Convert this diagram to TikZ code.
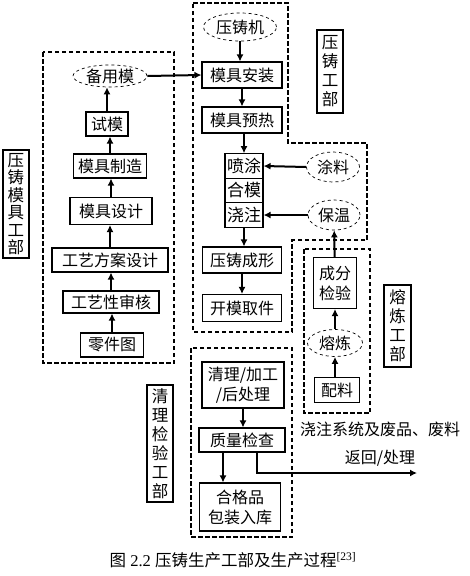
\documentclass[tikz,border=0pt]{standalone}
\usepackage{fontspec}
\setmainfont{Liberation Serif}
\newfontfamily\cjk{Noto Sans CJK SC}
\usetikzlibrary{shapes.geometric,arrows.meta}

\tikzset{
	stepbox/.style={draw,line width=1.1pt,inner sep=0.5pt,align=center,
		font=\cjk\fontsize{16}{20}\selectfont},
	oval/.style={ellipse,draw,dashed,line width=0.7pt,inner sep=0pt,
		font=\cjk\fontsize{16}{20}\selectfont},
	deptlabel/.style={draw,line width=1.1pt,inner sep=1pt,align=center,
		font=\cjk\fontsize{16.5}{19}\selectfont},
	region/.style={line width=1.8pt,dash pattern=on 4.5pt off 2.5pt},
	flow/.style={line width=2pt,-{Latex[length=7pt,width=7pt]}}
}

\begin{document}
\begin{tikzpicture}[x=1pt,y=-1pt]
	\useasboundingbox (0,0) rectangle (469,576);
	% dashed regions
	\draw[region] (43,52) rectangle (174,363);
	\draw[region] (193,3) -- (288,3) -- (288,143) -- (367,143) -- (367,240)
		-- (292,240) -- (292,332) -- (193,332) -- cycle;
	\draw[region] (304,249) rectangle (370,413);
	\draw[region] (191,348) rectangle (292,537);
	% mould department
	\node[oval,minimum width=74,minimum height=22] (bym) at (110,76) {备用模};
	\node[stepbox,minimum width=42,minimum height=24] (shimo) at (107,124) {试模};
	\node[stepbox,minimum width=73,minimum height=24] (zhizao) at (110,166) {模具制造};
	\node[stepbox,minimum width=82,minimum height=27] (sheji) at (111,211) {模具设计};
	\node[stepbox,minimum width=116,minimum height=24] (fangan) at (110,260) {工艺方案设计};
	\node[stepbox,minimum width=96,minimum height=22] (shenhe) at (111,302) {工艺性审核};
	\node[stepbox,minimum width=63,minimum height=24] (lingjian) at (112,345) {零件图};
	\draw[flow] (lingjian.north) -- (lingjian.north |- shenhe.south);
	\draw[flow] (shenhe.north) -- (shenhe.north |- fangan.south);
	\draw[flow] (fangan.north) -- (fangan.north |- sheji.south);
	\draw[flow] (sheji.north) -- (sheji.north |- zhizao.south);
	\draw[flow] (zhizao.north) -- (zhizao.north |- shimo.south);
	\draw[flow] (shimo.north) -- (shimo.north |- bym.south);
	% die casting department
	\node[oval,minimum width=73,minimum height=28] (yzj) at (240,27) {压铸机};
	\node[stepbox,minimum width=80,minimum height=26] (anzhuang) at (242,75) {模具安装};
	\node[stepbox,minimum width=80,minimum height=26] (yure) at (242,120) {模具预热};
	\node[stepbox,minimum width=38,minimum height=24.5,font=\cjk\fontsize{17}{20}\selectfont] (pentu) at (244,166) {喷涂};
	\node[stepbox,minimum width=38,minimum height=24.5,font=\cjk\fontsize{17}{20}\selectfont] (hemo) at (244,190.5) {合模};
	\node[stepbox,minimum width=38,minimum height=24.5,font=\cjk\fontsize{17}{20}\selectfont] (jiaozhu) at (244,215) {浇注};
	\node[oval,minimum width=53,minimum height=30] (tuliao) at (333,167) {涂料};
	\node[oval,minimum width=52,minimum height=30] (baowen) at (334,215) {保温};
	\node[stepbox,minimum width=79,minimum height=26] (chengxing) at (242,260) {压铸成形};
	\node[stepbox,minimum width=79,minimum height=27] (kaimo) at (242,308) {开模取件};
	\draw[flow] (bym.east) -- (anzhuang.west);
	\draw[flow] (yzj.south) -- (yzj.south |- anzhuang.north);
	\draw[flow] (anzhuang) -- (yure);
	\draw[flow] (yure.south -| pentu) -- (pentu.north);
	\draw[flow] (tuliao.west) -- (pentu.east);
	\draw[flow] (baowen.west) -- (jiaozhu.east);
	\draw[flow] (jiaozhu.south) -- (jiaozhu.south |- chengxing.north);
	\draw[flow] (chengxing) -- (kaimo);
	% melting department
	\node[stepbox,minimum width=43,minimum height=51] (chengfen) at (335,283) {成分\\检验};
	\node[oval,minimum width=55,minimum height=27] (ronglian) at (335,343) {熔炼};
	\node[stepbox,minimum width=45,minimum height=25] (peiliao) at (337,390) {配料};
	\draw[flow] (peiliao.north -| ronglian) -- (ronglian.south);
	\draw[flow] (ronglian) -- (chengfen);
	\draw[flow] (chengfen) -- (baowen);
	% cleaning and inspection department
	\node[stepbox,minimum width=82,minimum height=46] (qingli) at (243,385) {清理/加工\\/后处理};
	\node[stepbox,minimum width=86,minimum height=24] (zhiliang) at (242,440) {质量检查};
	\node[stepbox,minimum width=81,minimum height=48] (hege) at (240,507) {合格品\\包装入库};
	\coordinate (fanhui) at (417,473);
	\draw[flow] (qingli.south) -- (qingli.south |- zhiliang.north);
	\draw[flow] ([xshift=-19pt]zhiliang.south) -- ([xshift=-19pt]zhiliang.south |- hege.north);
	\draw[flow] ([xshift=15pt]zhiliang.south) |- (fanhui);
	\node[align=center,font=\cjk\fontsize{16}{28}\selectfont] (fanhuitext) at (380,444)
		{浇注系统及废品、废料\\返回/处理};
	% department labels
	\node[deptlabel,minimum width=26,minimum height=108,font=\cjk\fontsize{16.5}{17.5}\selectfont] (labmould) at (16,204)
		{压\\铸\\模\\具\\工\\部};
	\node[deptlabel,minimum width=26,minimum height=83] (labcast) at (330,71.5)
		{压\\铸\\工\\部};
	\node[deptlabel,minimum width=27,minimum height=82] (labmelt) at (397.5,326)
		{熔\\炼\\工\\部};
	\node[deptlabel,minimum width=26,minimum height=117] (labclean) at (160,443.5)
		{清\\理\\检\\验\\工\\部};
	% caption
	\node[font=\fontsize{16.5}{18}\selectfont] (caption) at (233,560)
		{{\cjk 图} 2.2 {\cjk 压铸生产工部及生产过程}\textsuperscript{[23]}};
\end{tikzpicture}
\end{document}
